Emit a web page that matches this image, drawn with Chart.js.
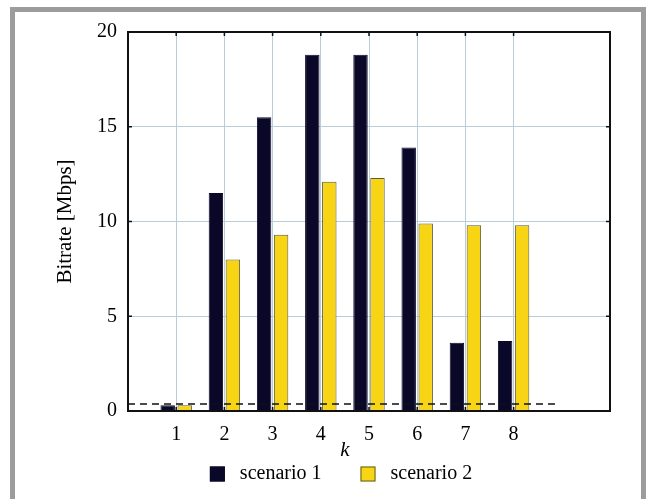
<!DOCTYPE html>
<html>
<head>
<meta charset="utf-8">
<script src="https://cdn.jsdelivr.net/npm/chart.js@4/dist/chart.umd.min.js"></script>
<style>
  html, body { margin: 0; padding: 0; background: #fff; }
  #wrap { position: relative; width: 646px; height: 499px; overflow: hidden; }
  #frame { position: absolute; left: 10px; top: 7px; width: 636px; height: 540px;
           border: 5px solid #9c9c9c; box-sizing: border-box; }
  #bitrate { position: absolute; left: 0; top: 0; }
</style>
</head>
<body>
<div id="wrap">
  <div id="frame"></div>
  <canvas id="bitrate" width="646" height="499"></canvas>
</div>
<script>
// values
const categories = [1, 2, 3, 4, 5, 6, 7, 8];
const scenario1 = [0.3, 11.5, 15.5, 18.8, 18.8, 13.9, 3.6, 3.7];
const scenario2 = [0.3, 8.0, 9.3, 12.1, 12.3, 9.9, 9.8, 9.8];
const limitX = [0, 8.9];
const limitY = [0.37, 0.37];
const yTicks = [0, 5, 10, 15, 20];
const xRange = [0, 10];

const serif = '"Liberation Serif", "Times New Roman", serif';

// box round the plot area, inward tick marks, the italic k and the legend
const frameBox = {
  id: 'frameBox',
  afterDatasetsDraw(chart) {
    const { ctx, chartArea: a, scales: { x, y } } = chart;
    ctx.save();
    ctx.strokeStyle = '#111';
    ctx.lineWidth = 1.5;
    ctx.beginPath();
    x.ticks.forEach(t => {
      const px = x.getPixelForValue(t.value);
      ctx.moveTo(px, a.top); ctx.lineTo(px, a.top + 4);
      ctx.moveTo(px, a.bottom); ctx.lineTo(px, a.bottom - 4);
    });
    y.ticks.forEach(t => {
      const py = y.getPixelForValue(t.value);
      ctx.moveTo(a.left, py); ctx.lineTo(a.left + 4, py);
      ctx.moveTo(a.right, py); ctx.lineTo(a.right - 4, py);
    });
    ctx.stroke();
    ctx.lineWidth = 2;
    ctx.strokeRect(a.left, a.top, a.right - a.left, a.bottom - a.top);

    ctx.fillStyle = '#000';
    ctx.font = 'italic 21px ' + serif;
    ctx.textAlign = 'center';
    ctx.textBaseline = 'middle';
    ctx.fillText('k', x.getPixelForValue(4.5), a.bottom + 39);

    // legend: box, gap 15, text, gap 39
    const items = chart.data.datasets.filter(d => d.type !== 'line');
    ctx.font = '20px ' + serif;
    ctx.textAlign = 'left';
    const widths = items.map(d => 30 + ctx.measureText(d.label).width);
    const total = widths.reduce((s, w) => s + w, 0) + 39 * (items.length - 1);
    let lx = a.left + 213 - total / 2;
    const ly = a.bottom + 63;
    items.forEach((d, i) => {
      ctx.fillStyle = d.backgroundColor;
      ctx.fillRect(lx, ly - 7.5, 15, 15);
      ctx.strokeStyle = d.borderColor;
      ctx.lineWidth = 1;
      ctx.strokeRect(lx + 0.5, ly - 7, 14, 14);
      ctx.fillStyle = '#000';
      ctx.fillText(d.label, lx + 30, ly);
      lx += widths[i] + 39;
    });
    ctx.restore();
  }
};

new Chart(document.getElementById('bitrate'), {
  type: 'bar',
  data: {
    datasets: [
      {
        type: 'line',
        label: 'limit',
        data: limitX.map((v, i) => ({ x: v, y: limitY[i] })),
        borderColor: '#111',
        borderWidth: 1.6,
        borderDash: [7, 5],
        pointRadius: 0,
        fill: false
      },
      {
        label: 'scenario 1',
        data: categories.map((c, i) => ({ x: c, y: scenario1[i] })),
        backgroundColor: '#0a0828',
        borderColor: '#0a0828',
        borderWidth: 1
      },
      {
        label: 'scenario 2',
        data: categories.map((c, i) => ({ x: c, y: scenario2[i] })),
        backgroundColor: '#f7d515',
        borderColor: '#5c5a3c',
        borderWidth: 1
      }
    ]
  },
  options: {
    responsive: false,
    devicePixelRatio: 1,
    animation: false,
    categoryPercentage: 0.705,
    barPercentage: 0.85,
    layout: { padding: { left: 72, right: 36, top: 32, bottom: 0 } },
    plugins: {
      tooltip: { enabled: false },
      legend: { display: false }
    },
    scales: {
      x: {
        type: 'linear',
        offset: false,
        min: xRange[0],
        max: xRange[1],
        afterBuildTicks: s => { s.ticks = categories.map(v => ({ value: v })); },
        afterFit: s => { s.height = 88; },
        grid: { color: '#b9cdd8', lineWidth: 1, drawTicks: false, offset: false },
        border: { display: false },
        ticks: { padding: 12, color: '#000', maxRotation: 0, autoSkip: false,
                 font: { family: serif, size: 20 } }
      },
      y: {
        min: yTicks[0],
        max: yTicks[yTicks.length - 1],
        afterBuildTicks: s => { s.ticks = yTicks.map(v => ({ value: v })); },
        afterFit: s => { s.width = 56; },
        grid: { color: '#b9cdd8', lineWidth: 1, drawTicks: false },
        border: { display: false },
        ticks: { padding: 11, color: '#000', font: { family: serif, size: 20 } },
        title: {
          display: true,
          text: 'Bitrate [Mbps]',
          color: '#000',
          font: { family: serif, size: 21 },
          padding: { top: -19.6, bottom: 0 }
        }
      }
    }
  },
  plugins: [frameBox]
});
</script>
</body>
</html>
